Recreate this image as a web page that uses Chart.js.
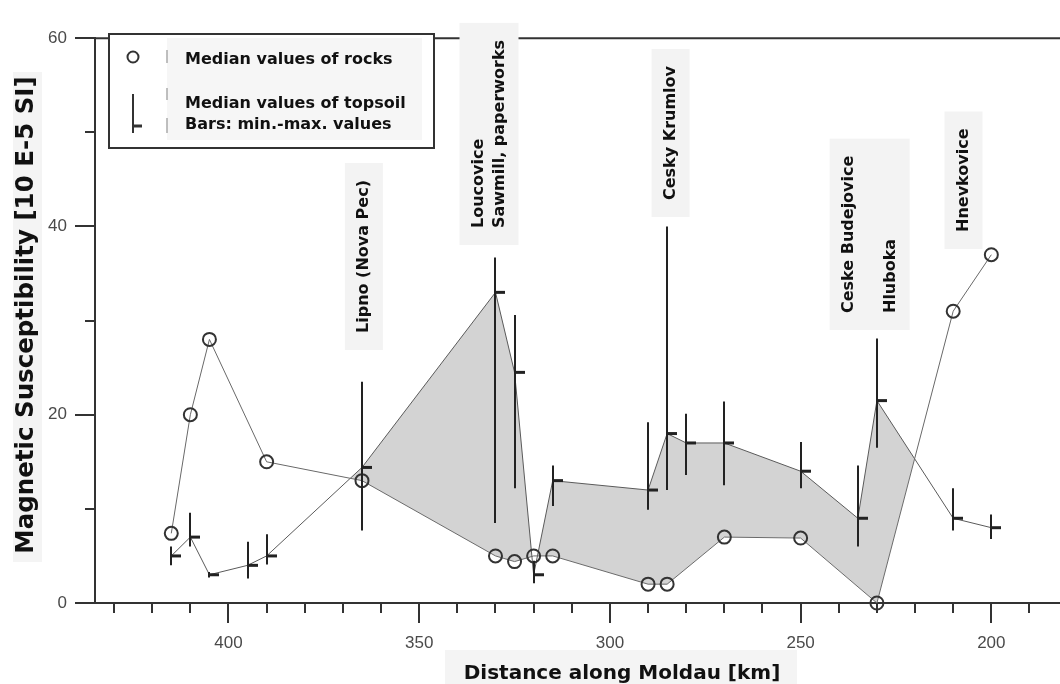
<!DOCTYPE html>
<html>
<head>
<meta charset="utf-8">
<script src="https://cdn.jsdelivr.net/npm/chart.js@4/dist/chart.umd.min.js"></script>
<style>
  html, body { margin: 0; padding: 0; background: #fff; }
  #wrap { width: 1060px; height: 684px; }
</style>
</head>
<body>
<div id="wrap"><canvas id="moldauChart" width="1060" height="684"></canvas></div>
<script>
// median susceptibility of rocks, km along the river
const rockKm = [415, 410, 405, 390, 365, 330, 325, 320, 315, 290, 285, 270, 250, 230, 210, 200];
const rockMedian = [7.4, 20, 28, 15, 13, 5, 4.4, 5, 5, 2, 2, 7, 6.9, 0, 31, 37];

// topsoil: median plus min-max range
const soilKm = [415, 410, 405, 395, 390, 365, 330, 325, 320, 315, 290, 285, 280, 270, 250, 235, 230, 210, 200];
const soilMedian = [5, 7, 3, 4, 5, 14.4, 33, 24.5, 3, 13, 12, 18, 17, 17, 14, 9, 21.5, 9, 8];
const soilMin = [4, 6, 2.7, 2.6, 4.1, 7.7, 8.5, 12.2, 2.1, 10.3, 9.9, 12, 13.6, 12.5, 12.2, 6, 16.5, 7.7, 6.8];
const soilMax = [6, 9.6, 3.3, 6.5, 7.3, 23.5, 36.7, 30.6, 4.5, 14.6, 19.2, 40, 20.1, 21.4, 17.1, 14.6, 28.1, 12.2, 9.4];

// towns / sources marked above the profile
const placeNames = [
  ['Lipno (Nova Pec)'],
  ['Loucovice', 'Sawmill, paperworks'],
  ['Cesky Krumlov'],
  ['Ceske Budejovice', '', 'Hluboka'],
  ['Hnevkovice']
];
const placeKm = [364.5, 331.7, 284.1, 231.9, 207.3];

// layout of the rotated place labels (pixel baseline of text start)
const placeTextBottom = [333, 228, 200, 313, 232];
const placeLineGap = 21;

const BOLD = 'bold 16px "DejaVu Sans", sans-serif';

function vText(ctx, text, x, yBottom) {
  ctx.save();
  ctx.translate(x, yBottom);
  ctx.rotate(-Math.PI / 2);
  ctx.textAlign = 'left';
  ctx.textBaseline = 'middle';
  ctx.fillText(text, 0, 0);
  ctx.restore();
}

function line(ctx, x1, y1, x2, y2) {
  ctx.beginPath();
  ctx.moveTo(x1, y1);
  ctx.lineTo(x2, y2);
  ctx.stroke();
}

// min-max bars with the median tick on the right side
const rangeBars = {
  id: 'rangeBars',
  afterDatasetsDraw(chart) {
    const {ctx, scales: {x, y}} = chart;
    ctx.save();
    ctx.strokeStyle = '#222';
    soilKm.forEach((km, i) => {
      const px = Math.round(x.getPixelForValue(km));
      ctx.lineWidth = 2;
      line(ctx, px, y.getPixelForValue(soilMin[i]), px, y.getPixelForValue(soilMax[i]));
      ctx.lineWidth = 3;
      const py = y.getPixelForValue(soilMedian[i]);
      line(ctx, px, py, px + 10, py);
    });
    ctx.restore();
  }
};

// frame, ticks, titles, legend and place labels
const decorations = {
  id: 'decorations',
  afterDraw(chart) {
    const {ctx, chartArea: a, scales: {x, y}} = chart;
    ctx.save();
    ctx.strokeStyle = '#333';
    ctx.lineWidth = 2;
    line(ctx, a.left, a.top, a.right, a.top);

    x.ticks.forEach(t => {
      const px = Math.round(x.getPixelForValue(t.value));
      const len = t.value % 50 === 0 ? 20 : 10;
      line(ctx, px, a.bottom, px, a.bottom + len);
    });
    y.ticks.forEach(t => {
      const py = Math.round(y.getPixelForValue(t.value));
      const len = t.value % 20 === 0 ? 20 : 10;
      line(ctx, a.left - len, py, a.left, py);
    });

    // axis titles
    ctx.fillStyle = '#f4f4f4';
    ctx.fillRect(13, 72, 29, 490);
    ctx.fillRect(445, 650, 352, 34);
    ctx.fillStyle = '#111';
    ctx.font = 'bold 24.5px "DejaVu Sans", sans-serif';
    ctx.save();
    ctx.translate(27, 315);
    ctx.rotate(-Math.PI / 2);
    ctx.textAlign = 'center';
    ctx.textBaseline = 'middle';
    ctx.fillText('Magnetic Susceptibility [10 E-5 SI]', 0, 0);
    ctx.restore();
    ctx.font = 'bold 20px "DejaVu Sans", sans-serif';
    ctx.textAlign = 'center';
    ctx.textBaseline = 'alphabetic';
    ctx.fillText('Distance along Moldau [km]', 622, 679);

    // place labels
    ctx.font = BOLD;
    placeNames.forEach((lines, i) => {
      const cx = x.getPixelForValue(placeKm[i]);
      const x0 = cx - (lines.length - 1) * placeLineGap / 2;
      const w = Math.max(...lines.map(s => ctx.measureText(s).width));
      const yb = placeTextBottom[i];
      ctx.fillStyle = '#f3f3f3';
      ctx.fillRect(x0 - 19, yb - w - 17, (lines.length - 1) * placeLineGap + 38, w + 34);
      ctx.fillStyle = '#111';
      lines.forEach((s, j) => vText(ctx, s, x0 + j * placeLineGap, yb));
    });

    // legend
    ctx.fillStyle = '#fff';
    ctx.fillRect(109, 34, 325, 114);
    ctx.fillStyle = '#f6f6f6';
    ctx.fillRect(167, 38, 255, 102);
    ctx.strokeStyle = '#333';
    ctx.lineWidth = 2;
    ctx.strokeRect(109, 34, 325, 114);
    ctx.beginPath();
    ctx.arc(133, 57, 5.5, 0, Math.PI * 2);
    ctx.stroke();
    line(ctx, 133, 94, 133, 133);
    ctx.lineWidth = 3;
    line(ctx, 133, 126, 142, 126);
    ctx.strokeStyle = '#aaa';
    ctx.lineWidth = 1.5;
    line(ctx, 167, 50, 167, 63);
    line(ctx, 167, 88, 167, 100);
    line(ctx, 167, 118, 167, 133);
    ctx.fillStyle = '#111';
    ctx.font = BOLD;
    ctx.textAlign = 'left';
    ctx.textBaseline = 'alphabetic';
    ctx.fillText('Median values of rocks', 185, 64);
    ctx.fillText('Median values of topsoil', 185, 108);
    ctx.fillText('Bars: min.-max. values', 185, 129);
    ctx.restore();
  }
};

const ctx = document.getElementById('moldauChart').getContext('2d');
new Chart(ctx, {
  type: 'line',
  data: {
    datasets: [
      {
        label: 'Median values of rocks',
        data: rockKm.map((km, i) => ({x: km, y: rockMedian[i]})),
        borderColor: '#6a6a6a',
        borderWidth: 1,
        pointRadius: 6.5,
        pointBorderWidth: 2,
        pointBorderColor: '#333',
        pointBackgroundColor: 'rgba(0,0,0,0)',
        fill: false,
        clip: false,
        tension: 0
      },
      {
        label: 'Median values of topsoil',
        data: soilKm.map((km, i) => ({x: km, y: soilMedian[i]})),
        borderColor: '#5a5a5a',
        borderWidth: 1,
        pointRadius: 0,
        fill: {target: 0, above: '#d3d3d3', below: 'rgba(0,0,0,0)'},
        tension: 0
      }
    ]
  },
  options: {
    responsive: false,
    animation: false,
    devicePixelRatio: 1,
    layout: {autoPadding: false, padding: {top: 20, left: 0, right: 0, bottom: 0}},
    plugins: {
      legend: {display: false},
      tooltip: {enabled: false}
    },
    scales: {
      x: {
        type: 'linear',
        reverse: true,
        min: 182,
        max: 435,
        grid: {display: false, drawTicks: false},
        border: {display: true, color: '#333', width: 2},
        ticks: {
          stepSize: 10,
          includeBounds: false,
          autoSkip: false,
          maxRotation: 0,
          padding: 30,
          color: '#4a4a4a',
          font: {family: '"Liberation Sans", Arial, sans-serif', size: 17},
          callback: v => (v % 50 === 0 ? v : '')
        },
        afterFit: scale => { scale.height = 81; }
      },
      y: {
        min: 0,
        max: 60,
        grid: {display: false, drawTicks: false},
        border: {display: true, color: '#333', width: 2},
        ticks: {
          stepSize: 10,
          autoSkip: false,
          padding: 28,
          color: '#4a4a4a',
          font: {family: '"Liberation Sans", Arial, sans-serif', size: 17},
          callback: v => (v % 20 === 0 ? v : '')
        },
        afterFit: scale => { scale.width = 95; }
      }
    }
  },
  plugins: [rangeBars, decorations]
});
</script>
</body>
</html>
